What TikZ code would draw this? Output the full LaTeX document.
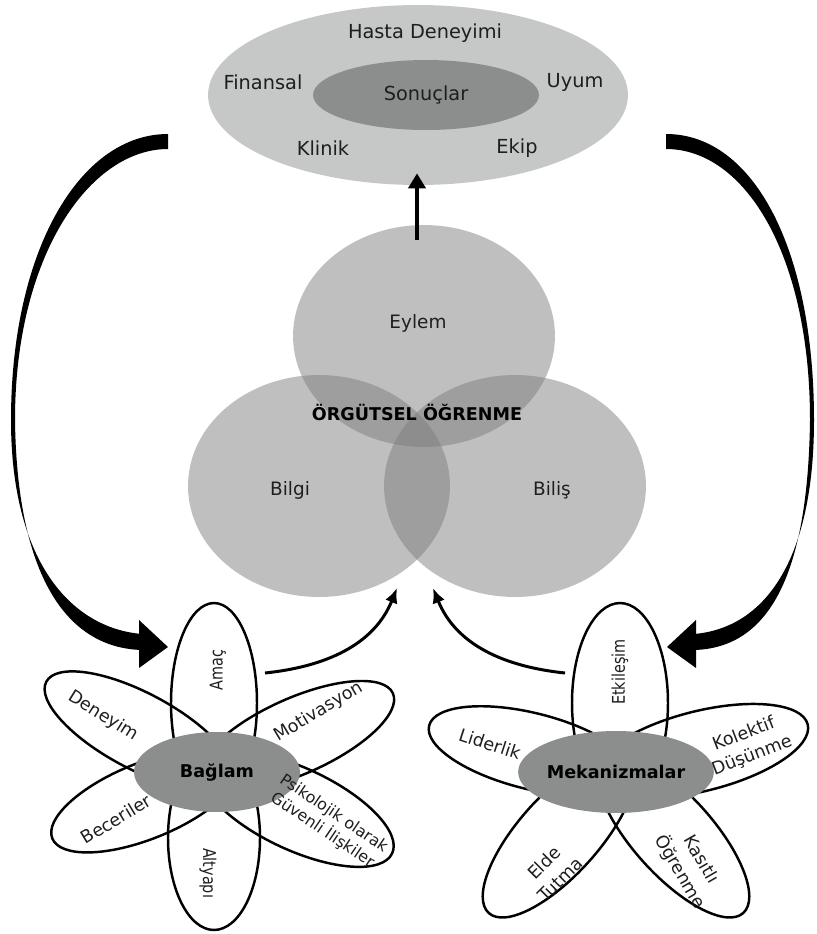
\documentclass[tikz,border=0pt]{standalone}
\usepackage{fontspec}
\setmainfont{DejaVu Sans}
\newfontfamily\narrowfont{DejaVu Sans}[FakeStretch=0.82]
\usepackage{tikz}
\usetikzlibrary{calc,positioning,arrows.meta,shapes.geometric}
\definecolor{shellGray}{HTML}{C6C7C7}
\definecolor{coreGray}{HTML}{8C8D8D}
\definecolor{vennGray}{gray}{0.48}
\definecolor{inkDark}{HTML}{1E1E1E}

\begin{document}
\begin{tikzpicture}[x=0.02cm,y=0.02cm,
  blob/.style={ellipse,inner sep=0pt},
  venn/.style={ellipse,fill=vennGray,fill opacity=.48,minimum width=5.24cm,minimum height=4.44cm},
  petal/.style={ellipse,draw=black,line width=1.4pt,inner sep=0pt},
  core/.style={ellipse,fill=coreGray,inner sep=0pt,minimum width=3.32cm,minimum height=1.6cm,font=\fontsize{10}{12}\selectfont\bfseries},
  txt/.style={font=\fontsize{11}{13}\selectfont,text=inkDark,inner sep=1pt},
  ptxt/.style={font=\fontsize{10}{13}\selectfont,text=inkDark,inner sep=1pt,align=center},
  ntxt/.style={font=\narrowfont\fontsize{10}{12}\selectfont,text=inkDark,inner sep=1pt},
  bigarrow/.style={fill=black},
  smallarrow/.style={line width=1.7pt,-{Latex[length=3mm,width=2.6mm]}}
]
  \useasboundingbox (0,0) rectangle (817,-934);

  % outcomes
  \node[blob,fill=shellGray,minimum width=8.4cm,minimum height=3.6cm] (outcome) at (418,-95) {};
  \node[blob,fill=coreGray,minimum width=4.52cm,minimum height=1.4cm,txt] (sonuc) at (426,-95) {Sonuçlar};
  \node[txt] (hasta) at (425,-33) {Hasta Deneyimi};
  \node[txt] (finans) at (263,-82) {Finansal};
  \node[txt] (uyum) at (575,-82) {Uyum};
  \node[txt] (klinik) at (323,-148) {Klinik};
  \node[txt] (ekip) at (517,-148) {Ekip};

  % organisational learning
  \node[venn] (eylem) at (424,-336) {};
  \node[venn] (bilgi) at (319,-486) {};
  \node[venn] (bilis) at (515,-486) {};
  \node[txt,font=\fontsize{10.5}{12}\selectfont] (tEylem) at (418,-323) {Eylem};
  \node[txt,font=\fontsize{10.5}{12}\selectfont] (tBilgi) at (290,-490) {Bilgi};
  \node[txt,font=\fontsize{10.5}{12}\selectfont] (tBilis) at (552,-490) {Biliş};
  \node[font=\fontsize{10}{12}\selectfont\bfseries] (tOrg) at (417,-412) {ÖRGÜTSEL ÖĞRENME};

  \draw[line width=2.3pt,-{Triangle[length=3mm,width=3.4mm]}] ($(eylem.north -| outcome.south)+(-1,-15)$) -- ($(outcome.south)+(-1,12)$);

  % feedback arrows
  \fill[bigarrow] (168,-134) .. controls (80,-134) and (11,-250) .. (11,-420) .. controls (11,-560) and (70,-628) .. (142,-634)
    -- (142,-650) .. controls (66,-648) and (17,-575) .. (15,-420) .. controls (15,-255) and (90,-149) .. (168,-149) -- cycle;
  \fill[bigarrow] (168,-647) -- (139,-620) -- (139,-668) -- cycle;
  \fill[bigarrow] (666,-134) .. controls (754,-134) and (814,-250) .. (814,-420) .. controls (814,-560) and (765,-628) .. (694,-634)
    -- (694,-650) .. controls (769,-648) and (808,-575) .. (810,-420) .. controls (810,-255) and (745,-149) .. (666,-149) -- cycle;
  \fill[bigarrow] (667,-647) -- (696,-620) -- (696,-668) -- cycle;

  \coordinate (amacOut) at (265,-673);
  \coordinate (cuspL) at (397,-588);
  \coordinate (etkOut) at (565,-673);
  \coordinate (cuspR) at (433,-588);
  \draw[smallarrow] (amacOut) to[out=6,in=-112] (cuspL);
  \draw[smallarrow] (etkOut) to[out=174,in=-68] (cuspR);

  % context petals
  \node[petal,minimum width=4cm,minimum height=1.72cm,rotate=90] (pAmac) at (214,-703) {};
  \node[petal,minimum width=3.68cm,minimum height=1.84cm,rotate=-90] (pAlty) at (214,-838) {};
  \node[petal,minimum width=4.2cm,minimum height=1.52cm,rotate=-28] (pDeney) at (139,-731) {};
  \node[petal,minimum width=4.2cm,minimum height=1.52cm,rotate=24] (pMotiv) at (297,-736) {};
  \node[petal,minimum width=4cm,minimum height=1.52cm,rotate=22] (pBecer) at (145,-801) {};
  \node[petal,minimum width=4.2cm,minimum height=1.64cm,rotate=-25] (pPsiko) at (297,-809) {};

  % mechanism petals
  \node[petal,minimum width=4cm,minimum height=1.92cm,rotate=90] (pEtkil) at (620,-703) {};
  \node[petal,minimum width=4.4cm,minimum height=1.6cm,rotate=14] (pKolek) at (701,-751) {};
  \node[petal,minimum width=4.2cm,minimum height=1.52cm,rotate=-14] (pLider) at (531,-751) {};
  \node[petal,minimum width=4.2cm,minimum height=1.6cm,rotate=48] (pElde) at (559,-835) {};
  \node[petal,minimum width=4.2cm,minimum height=1.6cm,rotate=-48] (pKasit) at (673,-835) {};

  \node[core] (baglam) at (217,-772) {Bağlam};
  \node[core,minimum width=3.34cm,minimum height=1.64cm] (mekan) at (616,-772) {Mekanizmalar};

  \node[ptxt,rotate=-32] (tDeney) at (103,-716) {Deneyim};
  \node[ptxt,rotate=31] (tMotiv) at (319,-712) {Motivasyon};
  \node[ptxt,rotate=31] (tBecer) at (116,-819) {Beceriler};
  \node[ptxt,rotate=-34,font=\fontsize{9}{11.5}\selectfont] (tPsiko) at (328,-822) {Psikolojik olarak\\Güvenli İlişkiler};
  \node[ntxt,rotate=90] (tAmac) at (218,-670) {Amaç};
  \node[ntxt,rotate=-90] (tAlty) at (208,-873) {Altyapı};

  \node[ntxt,rotate=90] (tEtkil) at (620,-672) {Etkileşim};
  \node[ptxt,rotate=-18] (tLider) at (490,-744) {Liderlik};
  \node[ptxt,rotate=21] (tKolek) at (748,-745) {Kolektif\\Düşünme};
  \node[ptxt,rotate=45] (tElde) at (552,-871) {Elde\\Tutma};
  \node[ptxt,rotate=-60,font=\fontsize{10}{14}\selectfont] (tKasit) at (690,-866) {Kasıtlı\\Öğrenme};
\end{tikzpicture}
\end{document}
